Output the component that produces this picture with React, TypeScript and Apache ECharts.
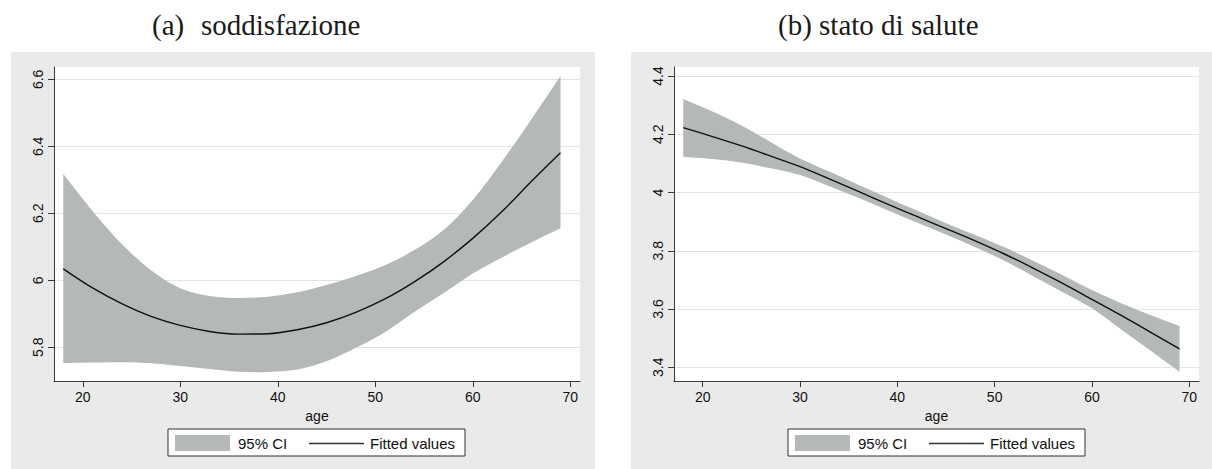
import React, { useEffect, useRef } from 'react';
import * as echarts from 'echarts';

const ages = [18, 21, 24, 27, 30, 33, 36, 39, 42, 45, 48, 51, 54, 57, 60, 63, 66, 69];

const satFitted = [6.034, 5.977, 5.930, 5.892, 5.865, 5.847, 5.839, 5.840, 5.852, 5.873, 5.904, 5.944, 5.995, 6.055, 6.125, 6.205, 6.295, 6.381];
const satUpper = [6.317, 6.207, 6.108, 6.030, 5.976, 5.953, 5.947, 5.951, 5.964, 5.986, 6.013, 6.045, 6.090, 6.150, 6.240, 6.355, 6.480, 6.610];
const satLower = [5.752, 5.754, 5.755, 5.752, 5.744, 5.735, 5.727, 5.726, 5.733, 5.758, 5.798, 5.845, 5.905, 5.961, 6.020, 6.068, 6.113, 6.155];

const healthFitted = [4.223, 4.192, 4.160, 4.125, 4.089, 4.047, 4.004, 3.960, 3.918, 3.876, 3.834, 3.789, 3.740, 3.688, 3.633, 3.578, 3.521, 3.463];
const healthUpper = [4.321, 4.278, 4.230, 4.173, 4.117, 4.072, 4.027, 3.982, 3.938, 3.895, 3.854, 3.812, 3.765, 3.716, 3.665, 3.620, 3.580, 3.542];
const healthLower = [4.123, 4.115, 4.103, 4.083, 4.060, 4.022, 3.982, 3.939, 3.897, 3.856, 3.812, 3.766, 3.712, 3.658, 3.603, 3.530, 3.458, 3.385];

const xTicks = [20, 30, 40, 50, 60, 70];
const satYTicks = [5.8, 6, 6.2, 6.4, 6.6];
const healthYTicks = [3.4, 3.6, 3.8, 4, 4.2, 4.4];

const panelTitles = ['(a)', 'soddisfazione', '(b) stato di salute'];
const legendLabels = ['95% CI', 'Fitted values'];
const xName = 'age';

const BAND = '#b5b8b8';
const AXIS = '#3a3a3a';
const SANS = '"Liberation Sans", Arial, sans-serif';
const SERIF = '"Liberation Serif", "Times New Roman", serif';

function pairs(xs: number[], ys: number[]) {
  return xs.map((x, i) => [x, ys[i]]);
}

// Catmull-Rom style smooth path segments through pixel points (drawing only)
function smoothSegments(pts: number[][]): string {
  let d = '';
  const n = pts.length;
  for (let i = 0; i < n - 1; i++) {
    const p0 = pts[Math.max(0, i - 1)];
    const p1 = pts[i];
    const p2 = pts[i + 1];
    const p3 = pts[Math.min(n - 1, i + 2)];
    const c1x = p1[0] + (p2[0] - p0[0]) / 6;
    const c1y = p1[1] + (p2[1] - p0[1]) / 6;
    const c2x = p2[0] - (p3[0] - p1[0]) / 6;
    const c2y = p2[1] - (p3[1] - p1[1]) / 6;
    d += ` C${c1x.toFixed(2)},${c1y.toFixed(2)} ${c2x.toFixed(2)},${c2y.toFixed(2)} ${p2[0].toFixed(2)},${p2[1].toFixed(2)}`;
  }
  return d;
}

function xAxisOpt(gridIndex: number) {
  return {
    type: 'value',
    gridIndex,
    min: 17.05,
    max: 71,
    name: xName,
    nameLocation: 'middle',
    nameGap: 26,
    nameTextStyle: { fontSize: 14, color: '#111', fontFamily: SANS },
    axisLine: { show: true, onZero: false, lineStyle: { color: AXIS, width: 1 } },
    axisTick: { show: true, length: 6, customValues: xTicks, lineStyle: { color: AXIS, width: 1 } },
    axisLabel: { customValues: xTicks, fontSize: 14, color: '#111', fontFamily: SANS, margin: 9 },
    splitLine: { show: false },
  };
}

function yAxisOpt(gridIndex: number, min: number, max: number, ticks: number[]) {
  return {
    type: 'value',
    gridIndex,
    min,
    max,
    axisLine: { show: true, onZero: false, lineStyle: { color: AXIS, width: 1 } },
    axisTick: { show: true, length: 6, customValues: ticks, lineStyle: { color: AXIS, width: 1 } },
    axisLabel: { customValues: ticks, rotate: 90, fontSize: 14, color: '#111', fontFamily: SANS, margin: 9 },
    splitLine: { show: true, lineStyle: { color: '#e3e3e3', width: 1 } },
  };
}

function bandSeries(idx: number, lower: number[], upper: number[], fitted: number[]) {
  return [
    {
      type: 'custom',
      xAxisIndex: idx,
      yAxisIndex: idx,
      silent: true,
      data: ages.map((a, i) => [a, lower[i], upper[i]]),
      encode: { x: 0, y: [1, 2] },
      renderItem: (params: any, api: any) => {
        if (params.dataIndex !== 0) return null;
        const top = ages.map((a, i) => api.coord([a, upper[i]]));
        const bottom = ages.map((a, i) => api.coord([a, lower[i]])).reverse();
        const d =
          `M${top[0][0].toFixed(2)},${top[0][1].toFixed(2)}` +
          smoothSegments(top) +
          ` L${bottom[0][0].toFixed(2)},${bottom[0][1].toFixed(2)}` +
          smoothSegments(bottom) +
          ' Z';
        return {
          type: 'path',
          shape: { pathData: d },
          style: { fill: BAND, stroke: 'none' },
        };
      },
      z: 2,
    },
    {
      type: 'line', xAxisIndex: idx, yAxisIndex: idx,
      data: pairs(ages, fitted), symbol: 'none', smooth: 0.3,
      lineStyle: { color: '#111', width: 1.4 }, silent: true, z: 5,
    },
  ];
}

function legendGraphic(x0: number) {
  return [
    { type: 'rect', shape: { x: x0, y: 429, width: 297, height: 27 }, style: { fill: '#fff', stroke: '#333', lineWidth: 1 }, z: 50 },
    { type: 'rect', shape: { x: x0 + 7, y: 435, width: 55, height: 16 }, style: { fill: BAND }, z: 51 },
    { type: 'text', x: x0 + 70, y: 443, style: { text: legendLabels[0], fontSize: 15, fontFamily: SANS, fill: '#111', textVerticalAlign: 'middle', verticalAlign: 'middle' }, z: 51 },
    { type: 'line', shape: { x1: x0 + 141, y1: 443.5, x2: x0 + 196, y2: 443.5 }, style: { stroke: '#333', lineWidth: 1.4 }, z: 51 },
    { type: 'text', x: x0 + 202, y: 443, style: { text: legendLabels[1], fontSize: 15, fontFamily: SANS, fill: '#111', textVerticalAlign: 'middle', verticalAlign: 'middle' }, z: 51 },
  ];
}

export default function App() {
  const ref = useRef<HTMLDivElement>(null);
  useEffect(() => {
    document.body.style.margin = '0';
    if (!ref.current) return;
    const chart = echarts.init(ref.current, undefined, { renderer: 'svg' });
    const titleStyle = (text: string) => ({ text, fontSize: 29, fontFamily: SERIF, fill: '#1a1a1a', textVerticalAlign: 'middle', verticalAlign: 'middle' });
    chart.setOption({
      animation: false,
      backgroundColor: '#fff',
      grid: [
        { left: 54, top: 67, width: 526, height: 314, show: true, backgroundColor: '#fff', borderWidth: 0 },
        { left: 674, top: 67, width: 525, height: 314, show: true, backgroundColor: '#fff', borderWidth: 0 },
      ],
      xAxis: [xAxisOpt(0), xAxisOpt(1)],
      yAxis: [
        yAxisOpt(0, 5.699, 6.637, satYTicks),
        yAxisOpt(1, 3.353, 4.431, healthYTicks),
      ],
      series: [
        ...bandSeries(0, satLower, satUpper, satFitted),
        ...bandSeries(1, healthLower, healthUpper, healthFitted),
      ],
      graphic: [
        { type: 'rect', shape: { x: 11, y: 52, width: 584, height: 417 }, style: { fill: '#eaeaea' }, z: -100 },
        { type: 'rect', shape: { x: 631, y: 52, width: 581, height: 417 }, style: { fill: '#eaeaea' }, z: -100 },
        { type: 'text', x: 152, y: 25, style: titleStyle(panelTitles[0]) },
        { type: 'text', x: 201, y: 25, style: titleStyle(panelTitles[1]) },
        { type: 'text', x: 778, y: 25, style: titleStyle(panelTitles[2]) },
        ...legendGraphic(168),
        ...legendGraphic(788),
      ],
    });
    return () => chart.dispose();
  }, []);
  return <div ref={ref} style={{ width: 1212, height: 469 }} />;
}
